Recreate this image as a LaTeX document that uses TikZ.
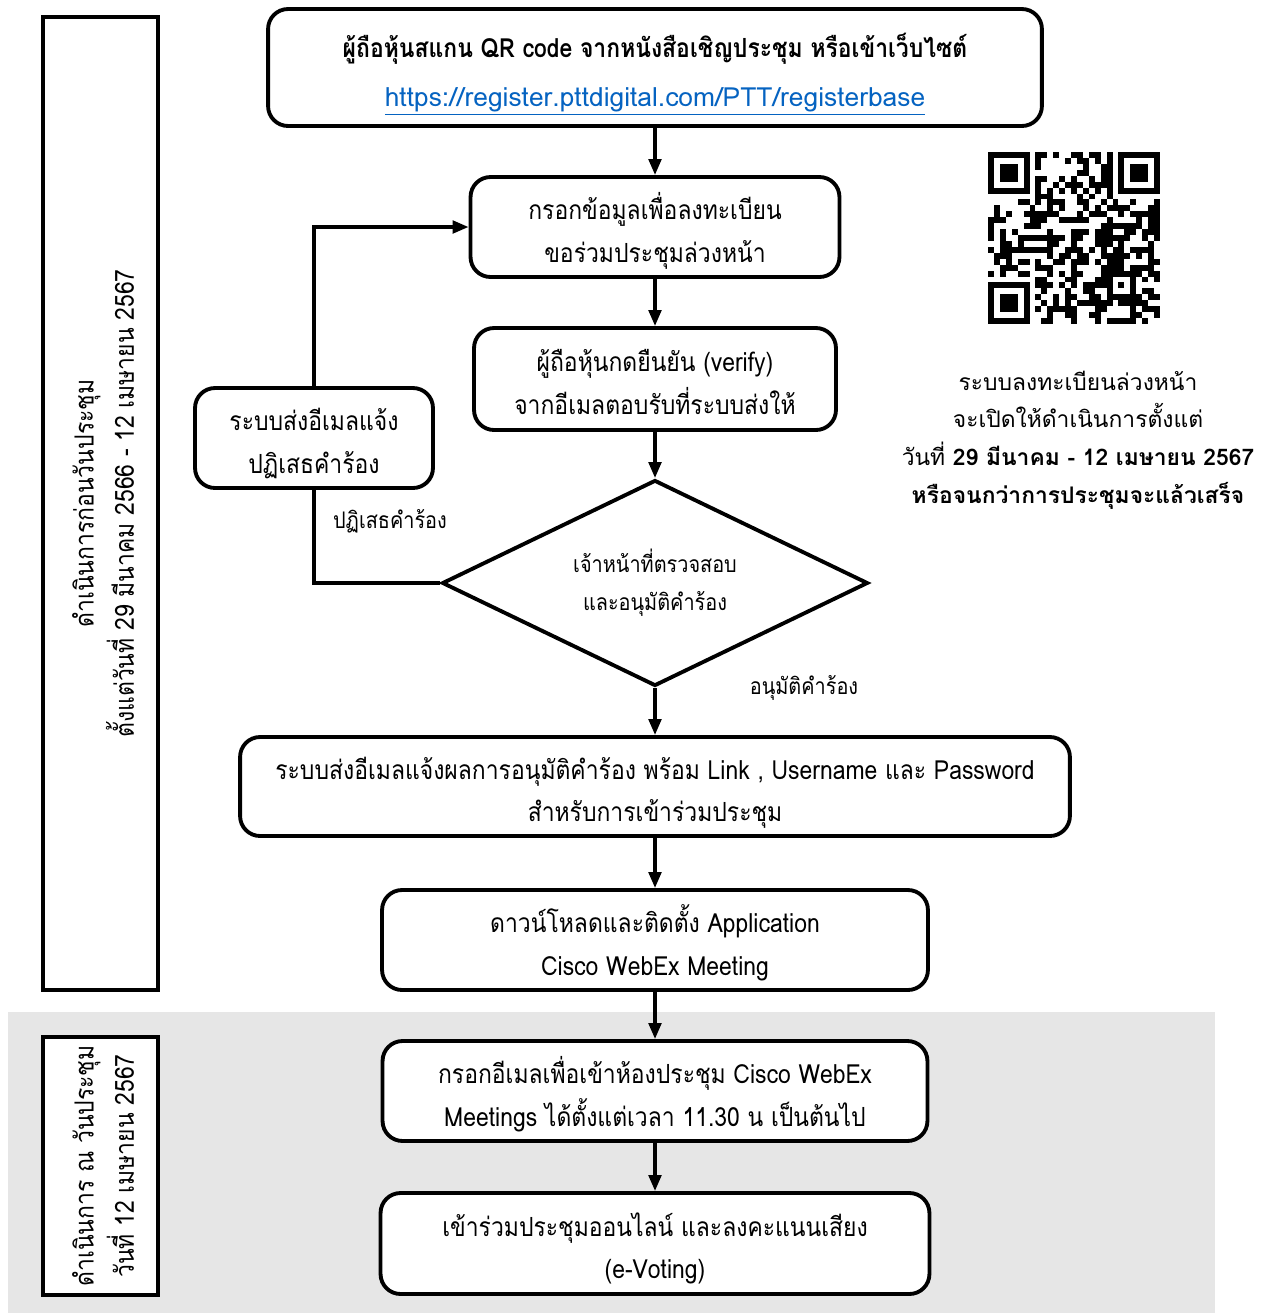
\documentclass[tikz,border=0pt]{standalone}
\usepackage{fontspec}
\setmainfont[Script=Thai]{Loma}
\newfontfamily\boxfont[Script=Thai, FakeStretch=0.87]{Loma}
\usetikzlibrary{arrows.meta,shapes.geometric}
\definecolor{linkblue}{HTML}{0563C1}
\definecolor{bandgray}{HTML}{E6E6E6}
\newcommand{\qrmod}{5.93}

\begin{document}
\begin{tikzpicture}[x = 0.02cm, y = -0.02cm,
    stepbox/.style = {draw, fill=white, line width=2.2pt, rounded corners=0.4cm, align=center, inner sep=0pt, text height=1.48cm, text depth=0.08cm, font=\boxfont\fontsize{15}{24}\selectfont},
    checkbox/.style = {draw, diamond, aspect=2, line width=2.2pt, minimum width=8.52cm, minimum height=4.12cm, align=center, inner sep=0pt, font=\boxfont\fontsize{13}{21.5}\selectfont},
    phasebox/.style = {draw, line width=2.4pt, fill=white, rotate=90, minimum height=2.3cm, align=center, inner sep=0pt, text height=1.43cm, text depth=0.09cm, font=\boxfont\fontsize{15}{23}\selectfont},
    note/.style = {font=\boxfont\fontsize{13}{20}\selectfont},
    flow/.style = {line width=2pt, -{Triangle[length=0.32cm, width=0.25cm]}}]
    \useasboundingbox (0,0) rectangle (1275,1313);
    \fill[bandgray] (8,1012) rectangle (1215,1313);

    \node[phasebox, minimum width=19.46cm] (before) at (100.5,503.5) {ดำเนินการก่อนวันประชุม\\ตั้งแต่วันที่ 29 มีนาคม 2566 - 12 เมษายน 2567};
    \node[phasebox, minimum width=5.16cm] (meetday) at (100.5,1166) {ดำเนินการ ณ วันประชุม\\วันที่ 12 เมษายน 2567};

    \node[stepbox, minimum width=15.48cm, minimum height=2.34cm, text height=1.62cm, text depth=0.07cm, font=\boxfont\fontsize{15}{28}\selectfont] (scan) at (655,67.5) {\textbf{ผู้ถือหุ้นสแกน QR code จากหนังสือเชิญประชุม หรือเข้าเว็บไซต์}\\{\rmfamily\textcolor{linkblue}{\underline{https://register.pttdigital.com/PTT/registerbase}}}};
    \node[stepbox, minimum width=7.38cm, minimum height=2cm] (form) at (655,227) {กรอกข้อมูลเพื่อลงทะเบียน\\ขอร่วมประชุมล่วงหน้า};
    \node[stepbox, minimum width=7.24cm, minimum height=2.04cm] (verify) at (655,379) {ผู้ถือหุ้นกดยืนยัน (verify)\\จากอีเมลตอบรับที่ระบบส่งให้};
    \node[checkbox] (check) at (655,583) {เจ้าหน้าที่ตรวจสอบ\\และอนุมัติคำร้อง};
    \node[stepbox, minimum width=4.76cm, minimum height=2cm] (reject) at (314,438) {ระบบส่งอีเมลแจ้ง\\ปฏิเสธคำร้อง};
    \node[stepbox, minimum width=16.6cm, minimum height=1.98cm] (notify) at (655,786.5) {ระบบส่งอีเมลแจ้งผลการอนุมัติคำร้อง พร้อม Link , Username และ Password\\สำหรับการเข้าร่วมประชุม};
    \node[stepbox, minimum width=10.92cm, minimum height=2cm] (install) at (655,940) {ดาวน์โหลดและติดตั้ง Application\\Cisco WebEx Meeting};
    \node[stepbox, minimum width=10.9cm, minimum height=2cm] (login) at (655,1091) {กรอกอีเมลเพื่อเข้าห้องประชุม Cisco WebEx\\Meetings ได้ตั้งแต่เวลา 11.30 น เป็นต้นไป};
    \node[stepbox, minimum width=10.98cm, minimum height=2.02cm] (vote) at (655,1243.5) {เข้าร่วมประชุมออนไลน์ และลงคะแนนเสียง\\(e-Voting)};

    \node[note] (rejlabel) at (390,521) {ปฏิเสธคำร้อง};
    \node[note] (applabel) at (804,688) {อนุมัติคำร้อง};
    \node[align=center, font=\fontsize{13}{21.5}\selectfont] (regnote) at (1078,440) {ระบบลงทะเบียนล่วงหน้า\\จะเปิดให้ดำเนินการตั้งแต่\\วันที่ \textbf{29 มีนาคม - 12 เมษายน 2567}\\\textbf{หรือจนกว่าการประชุมจะแล้วเสร็จ}};

    \draw[flow] (scan.south) -- (form.north);
    \draw[flow] (form.south) -- (verify.north);
    \draw[flow] (verify.south) -- (check.north);
    \draw[line width=2pt] (check.west) -| (reject.south);
    \draw[flow] (reject.north) |- (form.west);
    \draw[flow] (check.south) -- (notify.north);
    \draw[flow] (notify.south) -- (install.north);
    \draw[flow] (install.south) -- (login.north);
    \draw[flow] (login.south) -- (vote.north);

    % QR code
    \pgfmathsetseed{29}
    \foreach \i in {0,...,28}
        \foreach \j in {0,...,28} {
            \pgfmathtruncatemacro\bit{rnd<0.5}
            \ifnum\bit=1 \fill (988+\qrmod*\i,152+\qrmod*\j) rectangle ++(\qrmod,\qrmod); \fi
        }
    \foreach \wx/\wy in {0/0,21/0,0/21}
        \fill[white] (988+\qrmod*\wx,152+\qrmod*\wy) rectangle ++(8*\qrmod,8*\qrmod);
    \foreach \fx/\fy in {0/0,22/0,0/22} {
        \fill (988+\qrmod*\fx,152+\qrmod*\fy) rectangle ++(7*\qrmod,7*\qrmod);
        \fill[white] (988+\qrmod*\fx+\qrmod,152+\qrmod*\fy+\qrmod) rectangle ++(5*\qrmod,5*\qrmod);
        \fill (988+\qrmod*\fx+2*\qrmod,152+\qrmod*\fy+2*\qrmod) rectangle ++(3*\qrmod,3*\qrmod);
    }
    \foreach \k in {8,10,...,20} {
        \fill (988+\qrmod*\k,152+\qrmod*6) rectangle ++(\qrmod,\qrmod);
        \fill (988+\qrmod*6,152+\qrmod*\k) rectangle ++(\qrmod,\qrmod);
    }
    \foreach \k in {9,11,...,19} {
        \fill[white] (988+\qrmod*\k,152+\qrmod*6) rectangle ++(\qrmod,\qrmod);
        \fill[white] (988+\qrmod*6,152+\qrmod*\k) rectangle ++(\qrmod,\qrmod);
    }
    \fill (988+\qrmod*20,152+\qrmod*20) rectangle ++(5*\qrmod,5*\qrmod);
    \fill[white] (988+\qrmod*21,152+\qrmod*21) rectangle ++(3*\qrmod,3*\qrmod);
    \fill (988+\qrmod*22,152+\qrmod*22) rectangle ++(\qrmod,\qrmod);
\end{tikzpicture}
\end{document}
